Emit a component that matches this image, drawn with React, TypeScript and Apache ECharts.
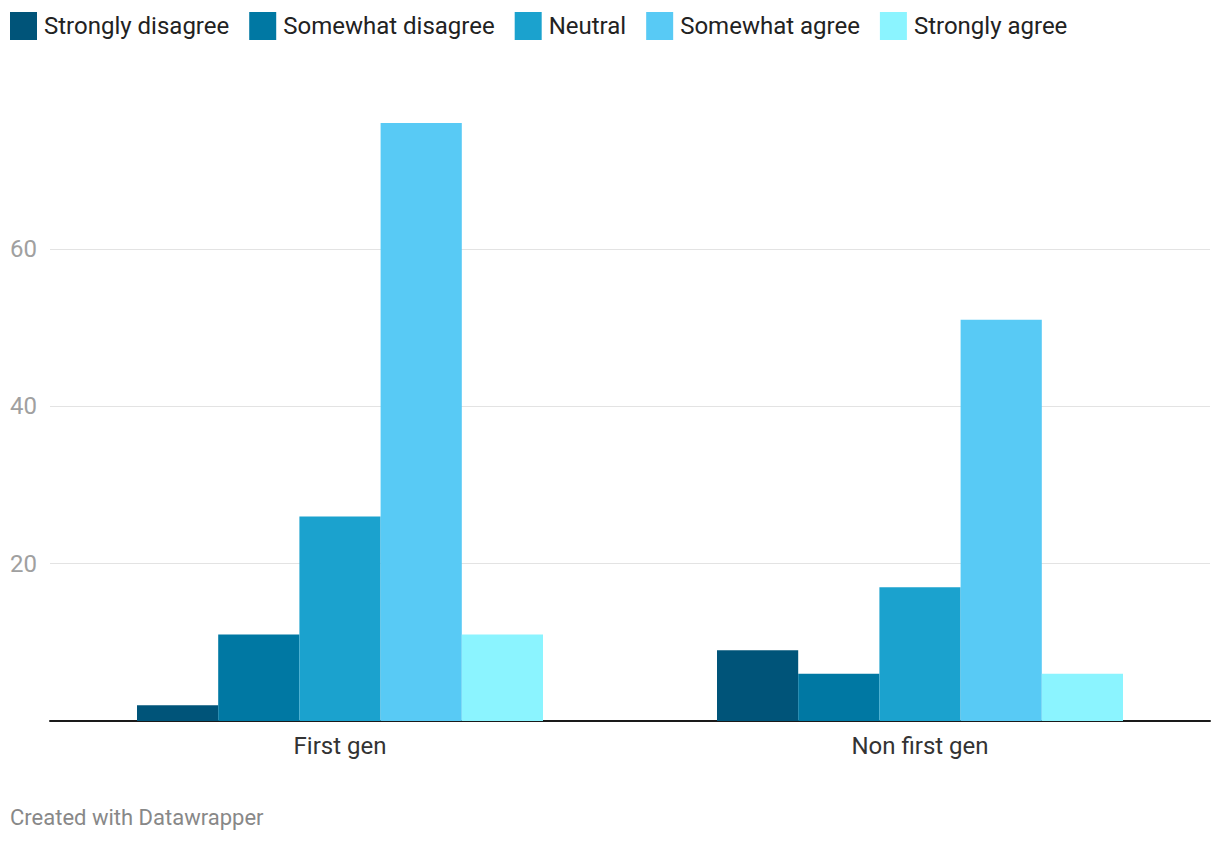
import React, { useEffect, useRef } from "react";
import * as echarts from "echarts";

const categories = ["First gen", "Non first gen"];
const seriesNames = ["Strongly disagree", "Somewhat disagree", "Neutral", "Somewhat agree", "Strongly agree"];
const stronglyDisagree = [2, 9];
const somewhatDisagree = [11, 6];
const neutral = [26, 17];
const somewhatAgree = [76, 51];
const stronglyAgree = [11, 6];
const colors = ["#005479", "#0078a3", "#1ba2ce", "#58caf5", "#8bf4ff"];
const footnote = "Created with Datawrapper";

export default function App() {
  const ref = useRef<HTMLDivElement>(null);
  useEffect(() => {
    if (!ref.current) return;
    const chart = echarts.init(ref.current, null, { renderer: "svg" });
    const values = [stronglyDisagree, somewhatDisagree, neutral, somewhatAgree, stronglyAgree];
    const font = "Roboto, 'Noto Sans', sans-serif";
    chart.setOption({
      animation: false,
      color: colors,
      textStyle: { fontFamily: font },
      legend: {
        top: 12,
        left: 10,
        padding: 0,
        itemWidth: 27,
        itemHeight: 28,
        itemGap: 20,
        icon: "rect",
        textStyle: { fontSize: 24, color: "#222", fontFamily: font, padding: [0, 0, 0, 2] },
        data: seriesNames,
      },
      grid: { left: 50, right: 10, top: 123, bottom: 123 },
      xAxis: {
        type: "category",
        data: categories,
        axisLine: { lineStyle: { color: "#1a1a1a", width: 2 } },
        axisTick: { show: false },
        axisLabel: { fontSize: 24, color: "#333", margin: 13, fontFamily: font },
      },
      yAxis: {
        type: "value",
        min: 0,
        max: 76,
        interval: 20,
        axisLine: { show: false },
        axisTick: { show: false },
        axisLabel: {
          fontSize: 24,
          color: "#a0a0a0",
          align: "left",
          margin: 40,
          showMinLabel: false,
          showMaxLabel: false,
          fontFamily: font,
        },
        splitLine: { lineStyle: { color: "#e3e3e3", width: 1 }, showMaxLine: false },
      },
      series: seriesNames.map((name, i) => ({
        name,
        type: "bar",
        data: values[i],
        barGap: "0%",
        barCategoryGap: "30%",
        itemStyle: { color: colors[i] },
      })),
      graphic: [
        {
          type: "text",
          left: 10,
          top: 806,
          style: { text: footnote, fontSize: 22, fill: "#888", fontFamily: font },
        },
      ],
    });
    return () => chart.dispose();
  }, []);
  return (
    <div
      ref={ref}
      style={{ position: "fixed", left: 0, top: 0, width: 1220, height: 844, background: "#fff" }}
    />
  );
}
